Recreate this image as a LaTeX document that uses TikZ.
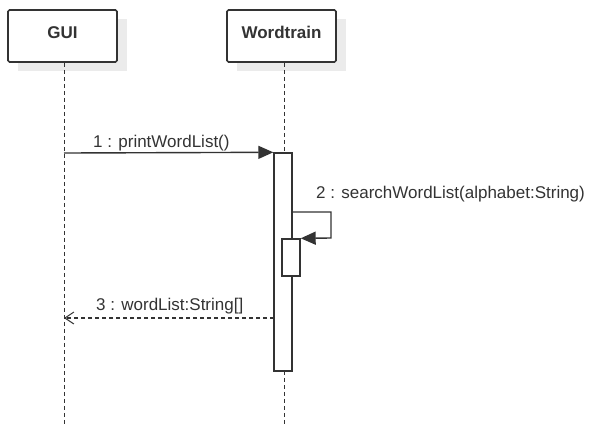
\documentclass[tikz,border=0pt]{standalone}
\usepackage{fontspec}
\setmainfont{Liberation Sans}
\usetikzlibrary{arrows.meta}
\definecolor{ink}{HTML}{333333}
\definecolor{shadowgray}{HTML}{EBEBEB}
\begin{document}
\begin{tikzpicture}[x=1pt,y=-1pt,
  lifebox/.style={draw=ink,line width=1.6pt,rounded corners=1.5pt,fill=white,
    minimum width=109pt,minimum height=52pt,inner sep=0pt,
    label={[font=\fontsize{17}{20}\selectfont\bfseries,text=ink,anchor=base,yshift=-29pt]north:#1}},
  lifeline/.style={draw=ink,line width=1pt,dash pattern=on 4pt off 3pt},
  actbar/.style={draw=ink,line width=1.4pt,fill=white,minimum width=18pt,inner sep=0pt},
  call/.style={draw=ink,line width=1.4pt,-{Triangle[length=15pt,width=13pt]}},
  reply/.style={draw=ink,line width=1.2pt,dash pattern=on 4pt off 3pt,
    -{Straight Barb[length=9pt,width=12pt,line width=1pt]}},
  msg/.style={font=\fontsize{17}{20}\selectfont,text=ink,anchor=base west,inner sep=0pt}]
\useasboundingbox (0,0) rectangle (593,424);
% shadows of the participant boxes
\fill[shadowgray] (18,19) rectangle (127,71);
\fill[shadowgray] (237,19) rectangle (346,71);
% participants
\node[lifebox=GUI] (gui) at (62.5,36) {};
\node[lifebox=Wordtrain] (wt) at (281.5,36) {};
% lifelines
\coordinate (guiend) at (64,424);
\coordinate (wtend) at (284,424);
\draw[lifeline] (gui.south -| guiend) -- (guiend);
\draw[lifeline] (wt.south -| wtend) -- (wtend);
% activation bars
\node[actbar,minimum height=218pt] (act1) at (283,262) {};
\node[actbar,minimum height=37pt] (act2) at (291,257.5) {};
% 1: call
\coordinate (m1) at (64,153);
\draw[call] (m1) -- (act1.north west);
\node[msg] (l1) at (93,147) {1 : printWordList()};
% 2: self call
\coordinate (s1) at (292,212);
\coordinate (s2) at (331,212);
\coordinate (s3) at (331,238);
\draw[call] (s1) -- (s2) -- (s3) -- (act2.north east);
\node[msg] (l2) at (316,198) {2 : searchWordList(alphabet:String)};
% 3: reply
\coordinate (r1) at (274,318);
\coordinate (r2) at (64,318);
\draw[reply] (r1) -- (r2);
\node[msg] (l3) at (96,310) {3 : wordList:String[]};
\end{tikzpicture}
\end{document}
